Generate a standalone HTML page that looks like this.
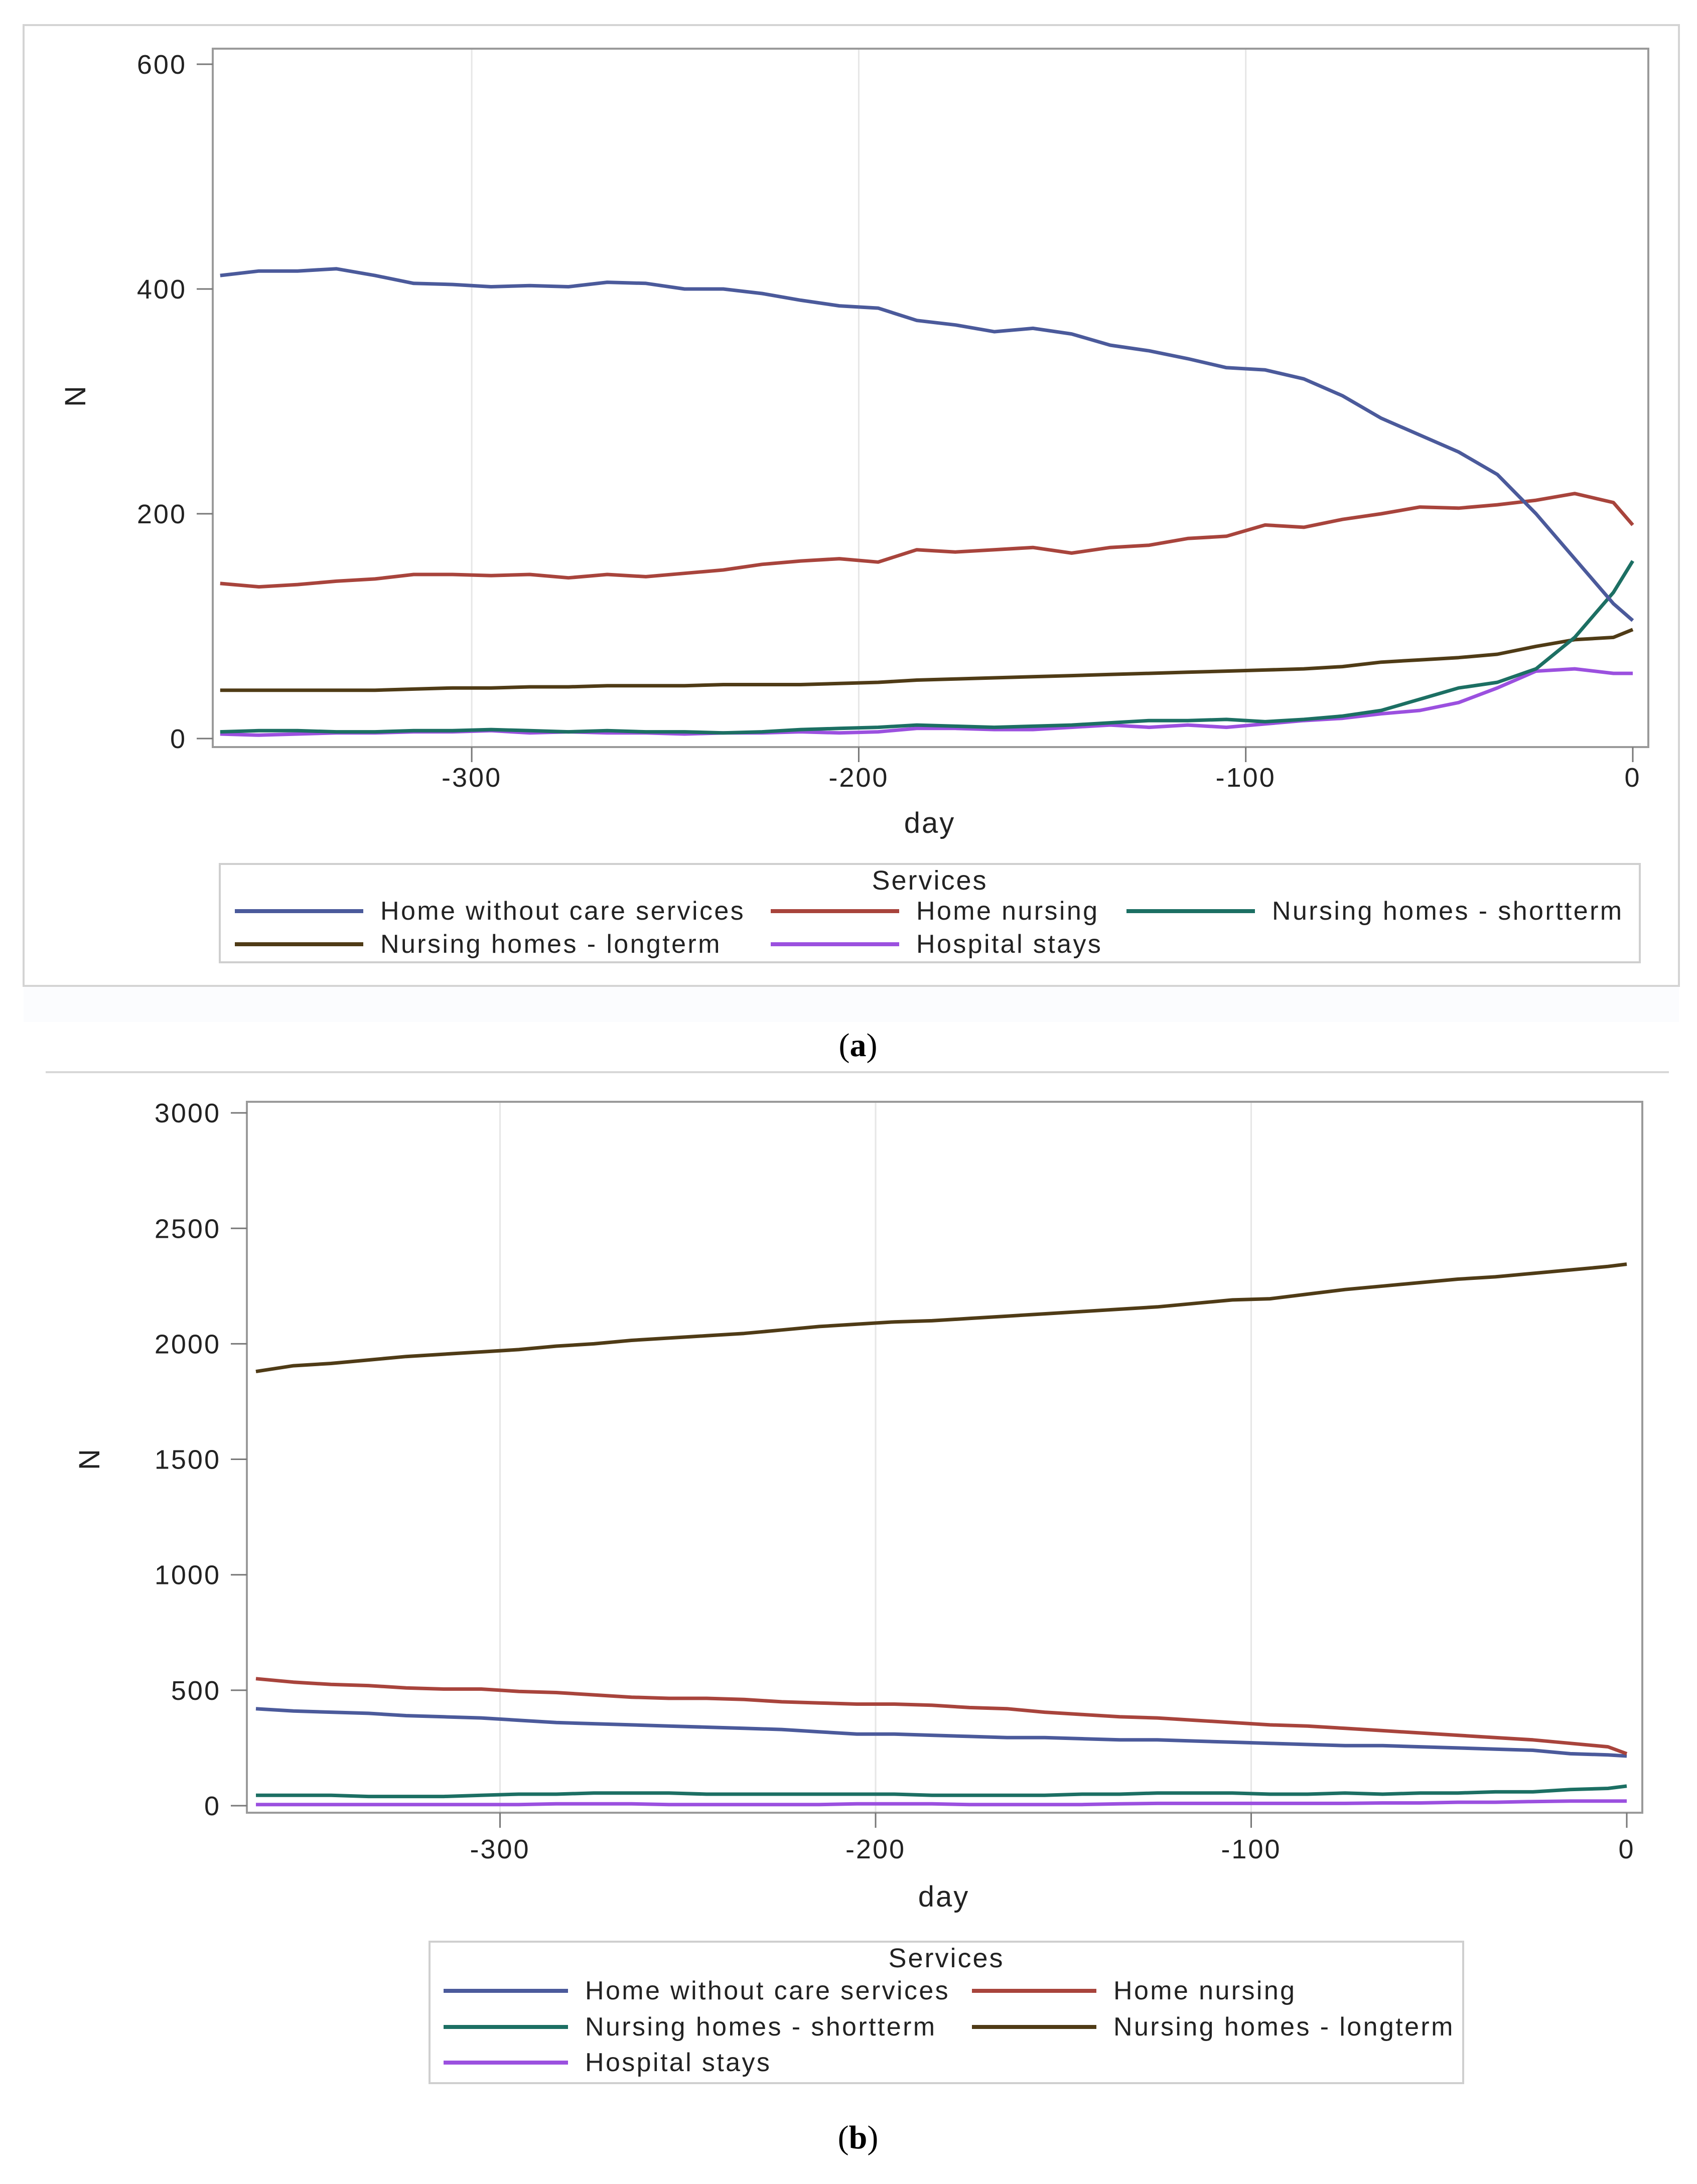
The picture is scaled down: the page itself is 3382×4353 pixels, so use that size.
<!DOCTYPE html>
<html><head><meta charset="utf-8">
<style>
html,body{margin:0;padding:0;background:#fff;}
svg{display:block;font-family:"Liberation Sans",Arial,sans-serif;}
</style></head>
<body>
<svg id="root" width="3382" height="4353" viewBox="0 0 3382 4353" xmlns="http://www.w3.org/2000/svg">
<rect x="0" y="0" width="3382" height="4353" fill="#fff"/>
<rect x="47" y="50" width="3299" height="1915" fill="none" stroke="#d4d4d4" stroke-width="4"/>
<rect x="47" y="1967" width="3299" height="70" fill="#fbfcfe"/>
<text x="1710" y="2105" font-family="Liberation Serif,serif" font-size="66" text-anchor="middle">(<tspan font-weight="bold">a</tspan>)</text>
<line x1="91" y1="2137" x2="3326" y2="2137" stroke="#d8d8d8" stroke-width="4"/>
<text x="1710" y="4282" font-family="Liberation Serif,serif" font-size="66" text-anchor="middle">(<tspan font-weight="bold">b</tspan>)</text>
<g id="chartA"></g>
<g id="chartB"></g>
</svg>
<script>
const days = [-365,-355,-345,-335,-325,-315,-305,-295,-285,-275,-265,-255,-245,-235,-225,-215,-205,-195,-185,-175,-165,-155,-145,-135,-125,-115,-105,-95,-85,-75,-65,-55,-45,-35,-25,-15,-5,0];
const seriesNames = ["Home without care services","Home nursing","Nursing homes - shortterm","Nursing homes - longterm","Hospital stays"];
const xTicks = [-300,-200,-100,0];
const aYTicks = [0,200,400,600];
const bYTicks = [0,500,1000,1500,2000,2500,3000];
const aHome = [412,416,416,418,412,405,404,402,403,402,406,405,400,400,396,390,385,383,372,368,362,365,360,350,345,338,330,328,320,305,285,270,255,235,200,160,120,105];
const aNursing = [138,135,137,140,142,146,146,145,146,143,146,144,147,150,155,158,160,157,168,166,168,170,165,170,172,178,180,190,188,195,200,206,205,208,212,218,210,190];
const aShort = [6,7,7,6,6,7,7,8,7,6,7,6,6,5,6,8,9,10,12,11,10,11,12,14,16,16,17,15,17,20,25,35,45,50,62,90,130,158];
const aLong = [43,43,43,43,43,44,45,45,46,46,47,47,47,48,48,48,49,50,52,53,54,55,56,57,58,59,60,61,62,64,68,70,72,75,82,88,90,97];
const aHosp = [4,3,4,5,5,6,6,7,5,6,5,5,4,5,5,6,5,6,9,9,8,8,10,12,10,12,10,13,16,18,22,25,32,45,60,62,58,58];
const bHome = [420,410,405,400,390,385,380,370,360,355,350,345,340,335,330,320,310,310,305,300,295,295,290,285,285,280,275,270,265,260,260,255,250,245,240,225,220,215];
const bNursing = [550,535,525,520,510,505,505,495,490,480,470,465,465,460,450,445,440,440,435,425,420,405,395,385,380,370,360,350,345,335,325,315,305,295,285,270,255,225];
const bShort = [45,45,45,40,40,40,45,50,50,55,55,55,50,50,50,50,50,50,45,45,45,45,50,50,55,55,55,50,50,55,50,55,55,60,60,70,75,85];
const bLong = [1880,1905,1915,1930,1945,1955,1965,1975,1990,2000,2015,2025,2035,2045,2060,2075,2085,2095,2100,2110,2120,2130,2140,2150,2160,2175,2190,2195,2215,2235,2250,2265,2280,2290,2305,2320,2335,2345];
const bHosp = [5,5,5,5,5,5,5,5,8,8,8,5,5,5,5,5,8,8,8,5,5,5,5,8,10,10,10,10,10,10,12,12,15,15,18,20,20,20];

const colors = ["#4b5a9b","#a8443c","#1c6f63","#4f3b16","#9b50df"];
const NS = "http://www.w3.org/2000/svg";
function mk(parent, tag, attrs, text){
  const e = document.createElementNS(NS, tag);
  for (const k in attrs) e.setAttribute(k, attrs[k]);
  if (text !== undefined) e.textContent = text;
  parent.appendChild(e); return e;
}
function drawChart(g, cfg){
  const xs = d => cfg.x0 + (d - 0) * cfg.xpu;
  const ys = v => cfg.y0 - v * cfg.ypu;
  xTicks.slice(0,3).forEach(t => {
    const l = mk(g,"line",{x1:xs(t),x2:xs(t),y1:cfg.top,y2:cfg.bottom,stroke:"#e6e6e6","stroke-width":3});
    
    
  });
  const frame = mk(g,"rect",{x:cfg.left,y:cfg.top,width:cfg.right-cfg.left,height:cfg.bottom-cfg.top,fill:"none",stroke:"#9a9a9a","stroke-width":4});
  
  
  cfg.yTicks.forEach(t => {
    const y = ys(t);
    mk(g,"line",{x1:cfg.left-32,x2:cfg.left,y1:y,y2:y,stroke:"#777","stroke-width":3});
    const tx = mk(g,"text",{x:cfg.left-52,y:y+19,"font-size":54,"letter-spacing":3,"text-anchor":"end",fill:"#222"}, String(t));
    
    
  });
  xTicks.forEach(t => {
    const x = xs(t);
    mk(g,"line",{x1:x,x2:x,y1:cfg.bottom,y2:cfg.bottom+30,stroke:"#777","stroke-width":3});
    const tx = mk(g,"text",{x:x,y:cfg.xLabelY,"font-size":54,"letter-spacing":3,"text-anchor":"middle",fill:"#222"}, String(t));
    
    
  });
  const xt = mk(g,"text",{x:cfg.dayX,y:cfg.dayY,"font-size":58,"letter-spacing":3,"text-anchor":"middle",fill:"#222"},"day");
  
  
  const yt = mk(g,"text",{x:0,y:0,"font-size":58,"text-anchor":"middle",fill:"#222",transform:`translate(${cfg.nX},${cfg.nY}) rotate(-90)`},"N");
  
  
  cfg.order.forEach(i => {
    const vals = cfg.series[i];
    const pts = days.map((d,k) => xs(d).toFixed(1)+","+ys(vals[k]).toFixed(1)).join(" ");
    const pl = mk(g,"polyline",{points:pts,fill:"none",stroke:colors[i],"stroke-width":7,"stroke-linejoin":"round"});
    
    
  });
  const L = cfg.legend;
  const lb = mk(g,"rect",{x:L.x,y:L.y,width:L.w,height:L.h,fill:"#fff",stroke:"#cfcfcf","stroke-width":4});
  
  
  const lt = mk(g,"text",{x:L.x+L.w/2,y:L.titleY,"font-size":54,"letter-spacing":3,"text-anchor":"middle",fill:"#222"},"Services");
  
  
  L.items.forEach(it => {
    const [i,lx,ly] = it;
    mk(g,"line",{x1:lx,x2:lx+L.lineW,y1:ly,y2:ly,stroke:colors[i],"stroke-width":8});
    const te = mk(g,"text",{x:lx+L.lineW+34,y:ly+17,"font-size":52,"letter-spacing":3.4,fill:"#222"},seriesNames[i]);
    
    
  });
}
drawChart(document.getElementById("chartA"),{
  left:424,right:3285,top:97,bottom:1489,x0:3254,xpu:7.713,y0:1472,ypu:2.24,
  yTicks:aYTicks,xLabelY:1568,dayX:1853,dayY:1660,nX:170,nY:790,
  series:[aHome,aNursing,aShort,aLong,aHosp],order:[3,4,2,1,0],
  legend:{x:438,y:1722,w:2830,h:196,titleY:1773,lineW:256,
    items:[[0,468,1816],[1,1536,1816],[2,2245,1816],[3,468,1882],[4,1536,1882]]}
});
drawChart(document.getElementById("chartB"),{
  left:492,right:3273,top:2196,bottom:3613,x0:3242,xpu:7.485,y0:3599,ypu:0.4603,
  yTicks:bYTicks,xLabelY:3704,dayX:1881,dayY:3800,nX:198,nY:2909,
  series:[bHome,bNursing,bShort,bLong,bHosp],order:[4,2,0,1,3],
  legend:{x:856,y:3870,w:2060,h:282,titleY:3921,lineW:248,
    items:[[0,884,3968],[1,1937,3968],[2,884,4040],[3,1937,4040],[4,884,4111]]}
});
</script>
</body></html>
